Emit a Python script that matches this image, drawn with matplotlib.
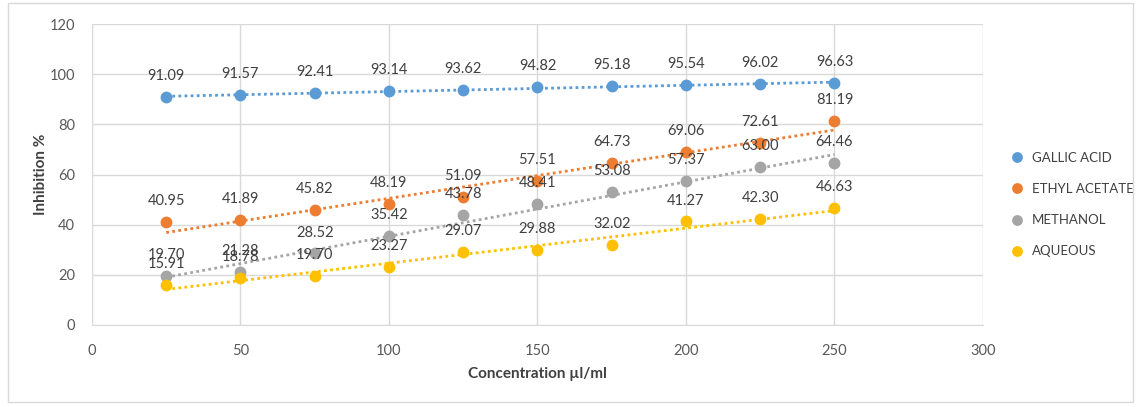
import numpy as np
import matplotlib
matplotlib.use("Agg")
import matplotlib.pyplot as plt
from matplotlib.patches import Rectangle

concentration = [25, 50, 75, 100, 125, 150, 175, 200, 225, 250]
gallic_acid = [91.09, 91.57, 92.41, 93.14, 93.62, 94.82, 95.18, 95.54, 96.02, 96.63]
ethyl_acetate = [40.95, 41.89, 45.82, 48.19, 51.09, 57.51, 64.73, 69.06, 72.61, 81.19]
methanol = [19.70, 21.28, 28.52, 35.42, 43.78, 48.41, 53.08, 57.37, 63.00, 64.46]
aqueous = [15.91, 18.78, 19.70, 23.27, 29.07, 29.88, 32.02, 41.27, 42.30, 46.63]
series_names = ["GALLIC ACID", "ETHYL ACETATE", "METHANOL", "AQUEOUS"]
x_ticks = [0, 50, 100, 150, 200, 250, 300]
y_ticks = [0, 20, 40, 60, 80, 100, 120]

colors = ["#5B9BD5", "#ED7D31", "#A5A5A5", "#FFC000"]
text_col = "#404040"

plt.rcParams['font.family'] = ['Lato', 'DejaVu Sans']

fig = plt.figure(figsize=(11.41, 4.07), dpi=100)
ax = fig.add_axes([0.0806, 0.2015, 0.7809, 0.7395])

# rahmen um das ganze diagramm
fig.patches.append(Rectangle((0.007, 0.012), 0.986, 0.98, transform=fig.transFigure,
                             fill=False, edgecolor="#D9D9D9", linewidth=1))

x = np.array(concentration)
for name, vals, c in zip(series_names, [gallic_acid, ethyl_acetate, methanol, aqueous], colors):
    y = np.array(vals)
    ax.plot(x, y, "o", color=c, markersize=7.5, label=name, zorder=3)
    # lineare trendlinie
    k, d = np.polyfit(x, y, 1)
    ax.plot(x, k * x + d, linestyle=(0, (1, 1.2)), color=c, linewidth=2, zorder=2)
    for xi, yi in zip(x, y):
        ax.annotate(f"{yi:.2f}", (xi, yi), xytext=(0, 10), textcoords="offset points",
                    ha="center", va="bottom", fontsize=10.5, color=text_col, zorder=4)

ax.set_xlim(0, 300)
ax.set_ylim(0, 120)
ax.set_xticks(x_ticks)
ax.set_yticks(y_ticks)
ax.tick_params(length=0, labelsize=10.5, labelcolor="#595959")
ax.tick_params(axis="x", pad=14)
ax.tick_params(axis="y", pad=12)
ax.grid(True, color="#D9D9D9", linewidth=1)
ax.set_axisbelow(True)
for s in ["top", "right", "left"]:
    ax.spines[s].set_visible(False)
ax.spines["bottom"].set_color("#D9D9D9")

ax.set_xlabel("Concentration µl/ml", fontsize=11, fontweight="bold", color=text_col, labelpad=6)
ax.set_ylabel("Inhibition %", fontsize=11, fontweight="bold", color=text_col, labelpad=1)

ax.legend(loc="center left", bbox_to_anchor=(1.0, 0.40), frameon=False, fontsize=9.5,
          handletextpad=0.1, markerscale=0.9, labelspacing=1.45, labelcolor=text_col,
          borderaxespad=1.2)

fig.savefig("out.png", dpi=100)
